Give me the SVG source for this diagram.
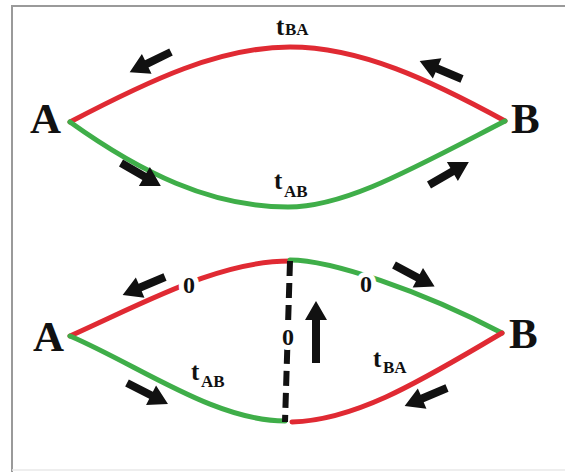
<svg xmlns="http://www.w3.org/2000/svg" xmlns:xlink="http://www.w3.org/1999/xlink" width="565" height="472" viewBox="0 0 565 472">
<style>
.red{fill:none;stroke:#e02a33;stroke-width:5;stroke-linecap:round}
.green{fill:none;stroke:#3fae49;stroke-width:5;stroke-linecap:round}
text{font-family:'Liberation Serif','Times New Roman',serif;font-weight:700;fill:#111}
.node{font-size:43px}
.t{font-size:25px}
.sub{font-size:17px}
.zero{font-size:24px;stroke:#fff;stroke-width:10;paint-order:stroke;text-anchor:middle}
.arr{fill:#111}
</style>
<defs>
<path id="arr" d="M0,-4 L27,-4 L27,-11 L46,0 L27,11 L27,4 L0,4 Z"/>
</defs>
<rect width="565" height="472" fill="#fff"/>
<path d="M12,472 L12,6 L565,6" fill="none" stroke="#9a9a9a" stroke-width="2"/>
<path d="M12,470 L565,470" fill="none" stroke="#e8e8e8" stroke-width="1.5"/>

<g id="connectors">
  <path class="red" d="M70,122 C150,80 220,47 290,47 C360,47 430,80 505,121"/>
  <path class="green" d="M70,122 C140,172 210,207 288,207 C345,207 410,170 505,121"/>
  <path class="red" d="M70,336 C150,300 220,261 290,261"/>
  <path class="green" d="M290,260 C330,260 420,290 502,333"/>
  <path class="green" d="M70,336 C140,366 215,421 285,421"/>
  <path class="red" d="M292,422 C360,420 430,375 502,333"/>
  <path d="M290,261 L285,422" fill="none" stroke="#111" stroke-width="6" stroke-dasharray="15 7"/>
  <g class="arr">
    <use xlink:href="#arr" transform="translate(171,52) rotate(154)"/>
    <use xlink:href="#arr" transform="translate(462,79) rotate(203)"/>
    <use xlink:href="#arr" transform="translate(121,163) rotate(30)"/>
    <use xlink:href="#arr" transform="translate(429,185) rotate(-30)"/>
    <use xlink:href="#arr" transform="translate(165,277) rotate(157)"/>
    <use xlink:href="#arr" transform="translate(394,265) rotate(28)"/>
    <use xlink:href="#arr" transform="translate(127,383) rotate(27)"/>
    <use xlink:href="#arr" transform="translate(447,388) rotate(157)"/>
    <path d="M312,363 L312,320 L305,320 L316,301 L327,320 L320,320 L320,363 Z"/>
  </g>
</g>

<g id="node-A-top"><text class="node" x="30" y="133">A</text></g>
<g id="node-B-top"><text class="node" x="511" y="133">B</text></g>
<g id="node-A-bottom"><text class="node" x="33" y="351">A</text></g>
<g id="node-B-bottom"><text class="node" x="509" y="348">B</text></g>

<g id="labels">
  <text class="t" x="276" y="35">t</text><text class="sub" x="285" y="35">BA</text>
  <text class="t" x="274" y="189">t</text><text class="sub" x="284" y="197">AB</text>
  <text class="t" x="191" y="380">t</text><text class="sub" x="201" y="387">AB</text>
  <text class="t" x="373" y="367">t</text><text class="sub" x="383" y="373">BA</text>
  <text class="zero" x="189" y="293">0</text>
  <text class="zero" x="366" y="292">0</text>
  <text class="zero" x="288" y="345">0</text>
</g>
</svg>
